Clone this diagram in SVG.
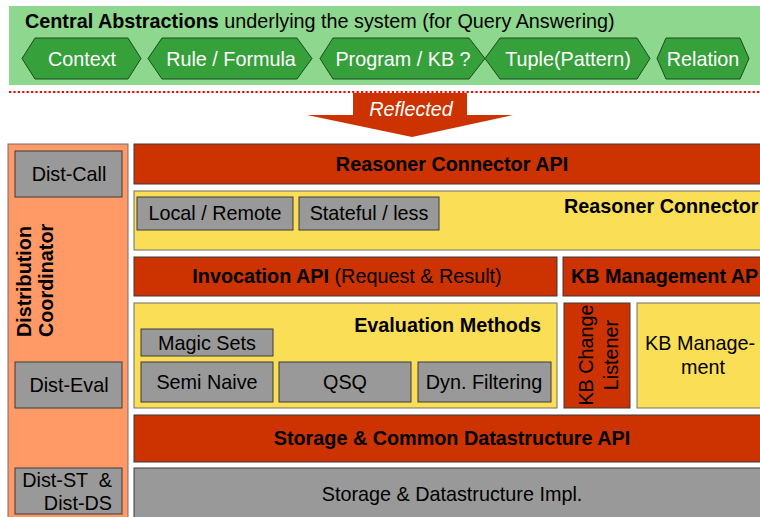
<svg xmlns="http://www.w3.org/2000/svg" width="760" height="517" viewBox="0 0 760 517">
<defs>
<style>
text{font-family:"Liberation Sans",Arial,sans-serif;font-size:19.8px;fill:#000}
.b{font-weight:bold}
.w{fill:#fff}
.mid{text-anchor:middle}
.hex{fill:#36A03A;stroke:#1E4A1E;stroke-width:1}
.red{fill:#CC3300;stroke:#3A3A3A;stroke-width:1}
.yel{fill:#FADF56;stroke:#6E6E6E;stroke-width:1}
.gry{fill:#999999;stroke:#3C3C3C;stroke-width:1}
.org{fill:#FF9966;stroke:#6E6E6E;stroke-width:1}
</style>
</defs>
<rect width="760" height="517" fill="#fff"/>
<g id="abstractions">
<rect x="9" y="6" width="752" height="79" fill="#8DD88E"/>
<text x="25" y="28"><tspan class="b">Central Abstractions</tspan> underlying the system (for Query Answering)</text>
</g>
<g id="context"><polygon class="hex" points="22,58.5 35,38 128,38 141,58.5 128,79 35,79"/><text class="w mid" x="82" y="66">Context</text></g>
<g id="rule"><polygon class="hex" points="148,58.5 162,38 297,38 312,58.5 297,79 162,79"/><text class="w mid" x="231" y="66">Rule / Formula</text></g>
<g id="program"><polygon class="hex" points="320,58.5 333,38 469,38 485,58.5 469,79 333,79"/><text class="w mid" x="403" y="66">Program / KB ?</text></g>
<g id="tuple"><polygon class="hex" points="485,58.5 500,38 637,38 650,58.5 637,79 500,79"/><text class="w mid" x="568" y="66">Tuple(Pattern)</text></g>
<g id="relation"><polygon class="hex" points="657,58.5 666,38 740,38 749,58.5 740,79 666,79"/><text class="w mid" x="703" y="66">Relation</text></g>
<g id="connectors">
<line x1="9" y1="92" x2="760" y2="92" stroke="#FF0000" stroke-width="2.2" stroke-dasharray="2.2,2.2"/>
<polygon points="353,93 467,93 467,115 513,115 412,137 307,115 353,115" fill="#CC3300"/>
<text class="w mid" x="411" y="116" font-style="italic">Reflected</text>
</g>
<g id="distribution-coordinator">
<rect class="org" x="8" y="144" width="120" height="380"/>
<text class="b" transform="translate(31,337) rotate(-90)">Distribution</text>
<text class="b" transform="translate(53,337) rotate(-90)">Coordinator</text>
</g>
<g id="dist-call"><rect class="gry" x="15" y="151" width="107" height="46"/><text class="mid" x="69" y="181">Dist-Call</text></g>
<g id="dist-eval"><rect class="gry" x="15" y="362" width="107" height="46"/><text class="mid" x="69" y="392">Dist-Eval</text></g>
<g id="dist-st-ds"><rect class="gry" x="15" y="468" width="107" height="46"/><text x="112" y="487" text-anchor="end" style="white-space:pre">Dist-ST  &amp;</text><text x="112" y="510" text-anchor="end">Dist-DS</text></g>
<g id="reasoner-connector-api"><rect class="red" x="134" y="144" width="630" height="40"/><text class="b mid" x="452" y="171">Reasoner Connector API</text></g>
<g id="reasoner-connector"><rect class="yel" x="134" y="191" width="630" height="59"/><text class="b" x="564" y="213" font-size="19.2">Reasoner Connector</text></g>
<g id="local-remote"><rect class="gry" x="137" y="197" width="156" height="33"/><text class="mid" x="215" y="220">Local / Remote</text></g>
<g id="stateful"><rect class="gry" x="299" y="197" width="140" height="33"/><text class="mid" x="369" y="220">Stateful / less</text></g>
<g id="invocation-api"><rect class="red" x="134" y="257" width="423" height="39"/><text class="mid" x="347" y="283"><tspan class="b">Invocation API</tspan> (Request &amp; Result)</text></g>
<g id="kb-management-api"><rect class="red" x="563" y="257" width="201" height="39"/><text class="b" x="571" y="283" font-size="19.4">KB Management AP</text></g>
<g id="evaluation-methods"><rect class="yel" x="134" y="303" width="423" height="105"/><text class="b" x="541" y="332" text-anchor="end">Evaluation Methods</text></g>
<g id="magic-sets"><rect class="gry" x="141" y="329" width="132" height="27"/><text class="mid" x="207" y="350">Magic Sets</text></g>
<g id="semi-naive"><rect class="gry" x="141" y="362" width="132" height="40"/><text class="mid" x="207" y="389">Semi Naive</text></g>
<g id="qsq"><rect class="gry" x="279" y="362" width="132" height="40"/><text class="mid" x="345" y="389">QSQ</text></g>
<g id="dyn-filtering"><rect class="gry" x="418" y="362" width="133" height="40"/><text class="mid" x="484" y="389">Dyn. Filtering</text></g>
<g id="kb-change-listener"><rect class="red" x="564" y="303" width="66" height="105"/><text class="mid" transform="translate(593,355) rotate(-90)">KB Change</text><text class="mid" transform="translate(618,355) rotate(-90)">Listener</text></g>
<g id="kb-management"><rect class="yel" x="637" y="303" width="127" height="105"/><text class="mid" x="700" y="350">KB Manage-</text><text class="mid" x="703" y="374">ment</text></g>
<g id="storage-api"><rect class="red" x="134" y="415" width="630" height="47"/><text class="b mid" x="452" y="445">Storage &amp; Common Datastructure API</text></g>
<g id="storage-impl"><rect class="gry" x="134" y="468" width="630" height="60"/><text class="mid" x="452" y="501">Storage &amp; Datastructure Impl.</text></g>
</svg>
